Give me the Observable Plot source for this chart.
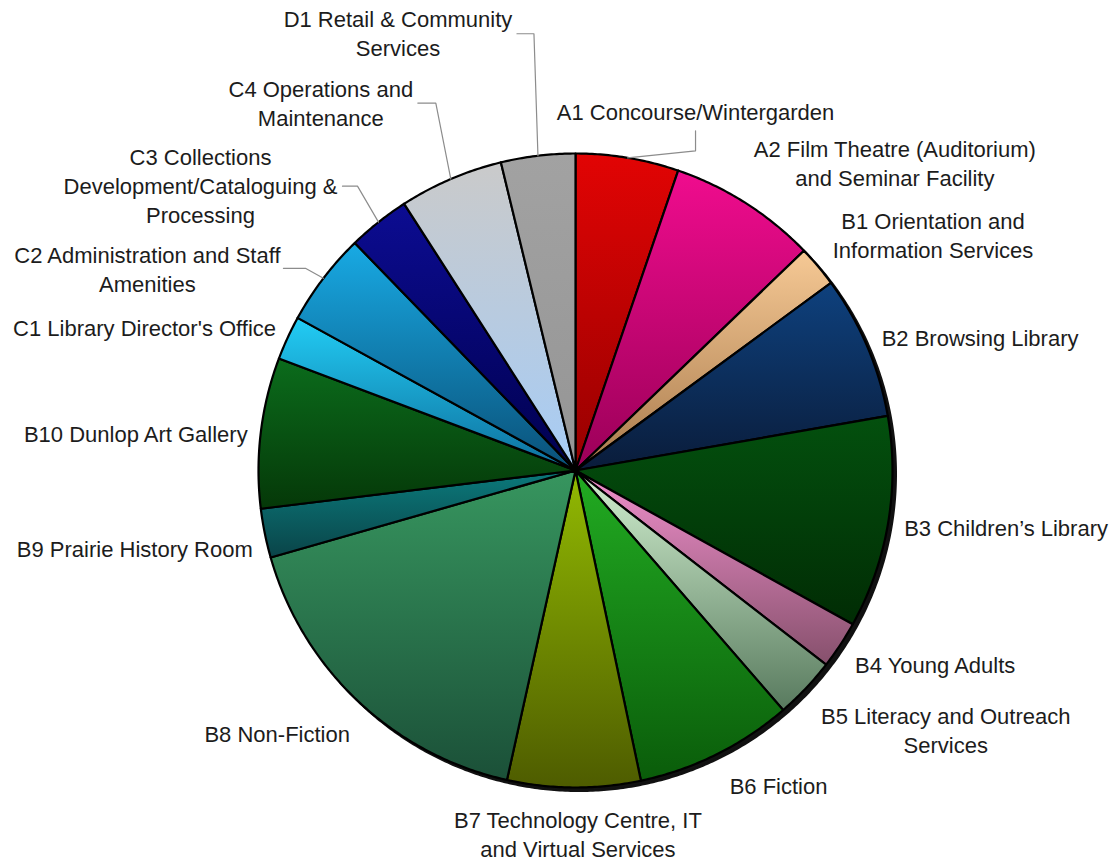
<!DOCTYPE html>
<html>
<head>
<meta charset="utf-8">
<script src="https://cdn.jsdelivr.net/npm/d3@7"></script>
<script src="https://cdn.jsdelivr.net/npm/@observablehq/plot@0.6"></script>
<style>
  html, body { margin: 0; padding: 0; background: #ffffff; overflow: hidden; }
</style>
</head>
<body>
<div id="chart"></div>
<script>
// ---- data (share of floor area, %) ----
const codes = ["A1","A2","B1","B2","B3","B4","B5","B6","B7","B8","B9","B10","C1","C2","C3","C4","D1"];
const labels = [
  "A1 Concourse/Wintergarden",
  "A2 Film Theatre (Auditorium)\nand Seminar Facility",
  "B1 Orientation and\nInformation Services",
  "B2 Browsing Library",
  "B3 Children\u2019s Library",
  "B4 Young Adults",
  "B5 Literacy and Outreach\nServices",
  "B6 Fiction",
  "B7 Technology Centre, IT\nand Virtual Services",
  "B8 Non-Fiction",
  "B9 Prairie History Room",
  "B10 Dunlop Art Gallery",
  "C1 Library Director's Office",
  "C2 Administration and Staff\nAmenities",
  "C3 Collections\nDevelopment/Cataloguing &\nProcessing",
  "C4 Operations and\nMaintenance",
  "D1 Retail & Community\nServices"
];
const shares = [5.25, 7.56, 2.11, 7.33, 10.82, 2.43, 3.14, 8.06, 6.78, 17.11, 2.50, 7.67, 2.25, 4.75, 3.17, 5.31, 3.78];

// ---- palette (vertical gradient per slice: top colour -> bottom colour) ----
const topColors    = ["#e20404","#f00c8e","#f6c995","#0e417e","#03500e","#f090cc","#d2f0d0","#22ac22","#92ba02","#37965f","#0b7a7c","#0b6c1c","#22cdf5","#18aae4","#0c0c92","#cacaca","#a2a2a2"];
const bottomColors = ["#960000","#9a0058","#a87a4c","#0a1c3a","#012c04","#86506c","#587a5e","#0a5c0a","#4e5c00","#1b5038","#0a4448","#053808","#0e6e9c","#0a5078","#00004e","#a6ccf6","#959595"];

// ---- label layout (pixel nudges from the rim point at each slice's mid-angle) ----
const labelNudge = [
  [68,-47],[149,-41],[115,-32],[113,-9],[118,4],[95,19],[140,41],[62,30],[4,46],
  [-81,31],[-130,14],[-125,0],[-143,-11],[-176,-10],[-178,-37],[-130,-77],[-140,-124]
];
// leader lines: [start, elbow] nudges from the rim point (line ends on the rim)
const leaderCodes = ["A1","C2","C3","C4","D1"];
const leaderNudge = [
  [[68,-27],[68,-7]],
  [[-40,-10],[-18,-10]],
  [[-36,-36],[-21,-36]],
  [[-33,-76],[-15,-76]],
  [[-21,-122],[-4,-122]]
];

// ---- geometry ----
const W = 1117, H = 863, CX = 575, CY = 470, R = 317;
const rows = codes.map((code, i) => ({code, label: labels[i], share: shares[i], i}));
const arcs = d3.pie().sort(null).value(d => d.share)(rows);

const step = Math.PI / 360;
const slicePts = [];
for (const a of arcs) {
  const code = a.data.code;
  slicePts.push({code, x: 0, y: 0});
  const n = Math.max(2, Math.ceil((a.endAngle - a.startAngle) / step) + 1);
  for (let k = 0; k < n; ++k) {
    const t = a.startAngle + (a.endAngle - a.startAngle) * k / (n - 1);
    slicePts.push({code, x: Math.sin(t), y: Math.cos(t)});
  }
  slicePts.push({code, x: 0, y: 0});
}
const circlePts = d3.range(0, 721).map(k => ({x: Math.sin(k * step), y: Math.cos(k * step)}));

const mid = a => (a.startAngle + a.endAngle) / 2;
const labelRows = arcs.map((a, i) => {
  const m = mid(a);
  return {label: a.data.label, x: Math.sin(m) + labelNudge[i][0] / R, y: Math.cos(m) - labelNudge[i][1] / R};
});
const leaderPts = [];
leaderCodes.forEach((code, j) => {
  const a = arcs.find(d => d.data.code === code);
  const m = mid(a);
  const rx = Math.sin(m), ry = Math.cos(m);
  for (const [nx, ny] of leaderNudge[j]) leaderPts.push({code, x: rx + nx / R, y: ry - ny / R});
  leaderPts.push({code, x: rx, y: ry});
});

const chart = Plot.plot({
  width: W,
  height: H,
  margin: 0,
  style: {fontFamily: "'Liberation Sans', Arial, Helvetica, sans-serif", background: "#ffffff"},
  x: {domain: [-CX / R, (W - CX) / R], range: [0, W], axis: null},
  y: {domain: [-(H - CY) / R, CY / R], range: [H, 0], axis: null},
  color: {type: "identity"},
  marks: [
    Plot.line(circlePts, {x: "x", y: "y", fill: "#111111", stroke: "#111111", strokeWidth: 2, dx: 3.5, dy: 3.5}),
    Plot.line(slicePts, {x: "x", y: "y", z: "code", fill: d => `url(#grad-${d.code})`, stroke: "#000000", strokeWidth: 2.2, strokeLinejoin: "round"}),
    Plot.line(leaderPts, {x: "x", y: "y", z: "code", stroke: "#8c8c8c", strokeWidth: 1.2}),
    Plot.text(labelRows, {x: "x", y: "y", text: "label", fontSize: 22, lineHeight: 1.32, fill: "#1c1c1c", textAnchor: "middle"})
  ]
});

// gradient definitions for the slice fills
const defs = d3.select(chart).insert("defs", ":first-child");
codes.forEach((code, i) => {
  const g = defs.append("linearGradient").attr("id", `grad-${code}`)
    .attr("x1", 0).attr("y1", 0).attr("x2", 0).attr("y2", 1);
  g.append("stop").attr("offset", "0%").attr("stop-color", topColors[i]);
  g.append("stop").attr("offset", "100%").attr("stop-color", bottomColors[i]);
});

document.getElementById("chart").append(chart);
</script>
</body>
</html>
